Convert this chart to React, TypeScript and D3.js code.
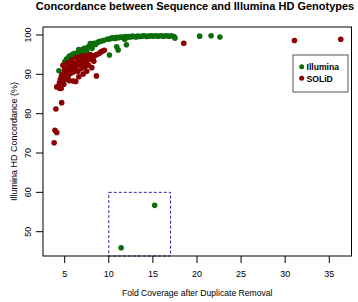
import React from "react";
import * as d3 from "d3";

const seriesNames = ["Illumina", "SOLiD"];
const seriesColors = ["#0b6e0b", "#8b0000"];

// [fold coverage, concordance %]
const illumina: [number, number][] = [
  [4.35, 90.9], [5.0, 93.2], [5.2, 93.9], [5.5, 94.6], [5.7, 94.8], [5.9, 95.1],
  [6.1, 95.3], [6.3, 95.0], [6.5, 95.6], [6.7, 95.9], [6.9, 96.2], [7.1, 96.0],
  [7.2, 96.6], [7.4, 96.4], [7.6, 96.9], [7.8, 97.2], [8.0, 97.0], [8.2, 97.5],
  [8.3, 97.9], [8.5, 97.6], [8.7, 98.1], [8.9, 98.3], [9.1, 98.4], [9.4, 98.6],
  [7.0, 95.5], [7.5, 96.0], [8.1, 96.6], [6.0, 94.6], [6.6, 96.3], [7.9, 97.8],
  [9.8, 98.9], [10.1, 99.0], [10.3, 99.2], [10.5, 99.3], [10.7, 99.1], [10.9, 99.4],
  [11.1, 99.3], [11.3, 99.5], [11.5, 99.4], [11.7, 99.5], [11.9, 99.6], [12.1, 99.4],
  [12.3, 99.6], [12.5, 99.5], [12.7, 99.7], [12.9, 99.6], [13.1, 99.5], [13.3, 99.7],
  [13.5, 99.6], [13.8, 99.7], [14.0, 99.8], [14.3, 99.6], [14.5, 99.7], [14.8, 99.8],
  [15.0, 99.7], [15.3, 99.8], [15.6, 99.7], [15.9, 99.8], [16.2, 99.7], [16.5, 99.8],
  [16.8, 99.7], [17.1, 99.8], [17.4, 99.6], [17.5, 99.2], [11.8, 98.9], [12.0, 97.5],
  [10.9, 97.0], [11.06, 96.2], [10.07, 94.9], [20.3, 99.7], [21.6, 99.8], [22.6, 99.5],
  [11.4, 45.9], [15.2, 56.7],
];

const solid: [number, number][] = [
  [3.8, 72.6], [3.9, 75.8], [4.1, 75.2], [4.0, 81.2], [4.66, 82.8], [6.25, 88.2],
  [8.6, 89.6], [8.07, 91.7], [9.3, 95.9], [18.5, 97.9], [31.05, 98.6], [36.3, 98.9],
  [4.1, 86.8], [4.3, 86.9], [4.6, 86.4], [4.4, 87.8], [4.5, 88.6], [4.6, 89.3],
  [4.7, 90.0], [4.8, 88.2], [4.9, 89.5], [5.0, 90.6], [5.0, 91.3], [5.2, 90.2],
  [5.3, 91.0], [5.4, 91.8], [5.5, 90.8], [5.6, 92.0], [5.8, 91.5], [5.9, 92.4],
  [6.0, 91.2], [6.1, 92.8], [6.3, 92.2], [6.4, 93.0], [6.5, 92.5], [6.7, 93.3],
  [6.8, 92.7], [7.0, 93.6], [7.1, 93.0], [7.3, 93.9], [7.5, 93.4], [7.6, 94.2],
  [7.8, 93.8], [8.0, 94.5], [8.2, 94.1], [8.4, 94.8], [8.6, 95.0], [8.9, 95.3],
  [4.9, 87.5], [5.1, 88.8], [5.4, 89.6], [5.7, 90.3], [6.0, 90.6], [6.2, 91.4],
  [9.1, 95.7], [9.5, 96.1],
  [4.8, 92.3], [5.3, 92.9], [5.8, 93.6], [6.35, 94.3], [6.9, 94.6], [7.4, 94.8],
  [7.9, 95.0], [5.95, 88.3], [6.6, 89.4], [7.1, 90.1], [7.5, 90.8], [6.9, 91.5],
  [7.7, 92.3], [4.45, 86.4], [5.5, 88.4], [6.5, 90.8], [7.3, 92.0], [8.3, 93.3],
];

const xTicks = [5, 10, 15, 20, 25, 30, 35];
const yTicks = [50, 60, 70, 80, 90, 100];
const zoomBox = { x0: 10, x1: 17, y0: 43.82, y1: 60 };

const title = "Concordance between Sequence and Illumina HD Genotypes";
const xLabel = "Fold Coverage after Duplicate Removal";
const yLabel = "Illumina HD Concordance (%)";

export default function App() {
  const W = 358, H = 302;
  const L = 43, R = 351.5, T = 27, B = 256;
  const x = d3.scaleLinear().domain([2.54, 37.52]).range([L, R]);
  const y = d3.scaleLinear().domain([43.82, 102.03]).range([B, T]);
  const font = "Liberation Sans, Arial, Helvetica, sans-serif";
  const series = [illumina, solid];

  return (
    <svg width={W} height={H} style={{ position: "absolute", left: 0, top: 0, background: "#fff" }} fontFamily={font}>
      <text x={195} y={9.5} textAnchor="middle" fontWeight="bold" fontSize={11} fill="#000">{title}</text>
      {series.map((pts, si) =>
        pts.map((p, i) => (
          <circle key={si + "-" + i} cx={x(p[0])} cy={y(p[1])} r={2.8} fill={seriesColors[si]} />
        ))
      )}
      <rect x={x(zoomBox.x0)} y={y(zoomBox.y1)} width={x(zoomBox.x1) - x(zoomBox.x0)} height={y(zoomBox.y0) - y(zoomBox.y1)}
        fill="none" stroke="#2b2bb0" strokeWidth={1} strokeDasharray="3,2" />
      <rect x={L} y={T} width={R - L} height={B - T} fill="none" stroke="#000" strokeWidth={1} />
      {xTicks.map((t) => (
        <g key={"x" + t}>
          <line x1={x(t)} x2={x(t)} y1={B} y2={B + 7} stroke="#000" />
          <text x={x(t)} y={277} textAnchor="middle" fontSize={9} fill="#000">{t}</text>
        </g>
      ))}
      {yTicks.map((t) => (
        <g key={"y" + t}>
          <line x1={L - 7} x2={L} y1={y(t)} y2={y(t)} stroke="#000" />
          <text transform={`translate(31,${y(t)}) rotate(-90)`} textAnchor="middle" fontSize={9} fill="#000">{t}</text>
        </g>
      ))}
      <text x={(L + R) / 2} y={296} textAnchor="middle" fontSize={8.6} fill="#000">{xLabel}</text>
      <text transform={`translate(17,${(T + B) / 2}) rotate(-90)`} textAnchor="middle" fontSize={9} fill="#000">{yLabel}</text>
      <rect x={293} y={55} width={55} height={37} fill="#fff" stroke="#555" strokeWidth={1} />
      {seriesNames.map((n, i) => (
        <g key={n}>
          <circle cx={301.7} cy={66.7 + i * 11.6} r={2.5} fill={seriesColors[i]} />
          <text x={306.5} y={66.7 + i * 11.6 + 3.2} fontSize={8.6} fontWeight="bold" fill="#000">{n}</text>
        </g>
      ))}
    </svg>
  );
}
